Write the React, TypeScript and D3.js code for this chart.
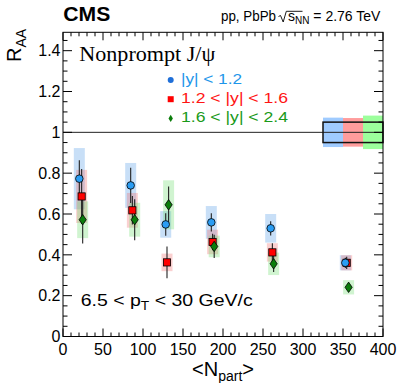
import React from 'react';
import * as d3 from 'd3';

// ---------- data ----------
const X_TICKS = [0, 50, 100, 150, 200, 250, 300, 350, 400];
const X_TICK_LABELS = ['0', '50', '100', '150', '200', '250', '300', '350', '400'];
const Y_TICKS = [0, 0.2, 0.4, 0.6, 0.8, 1, 1.2, 1.4];
const Y_TICK_LABELS = ['0', '0.2', '0.4', '0.6', '0.8', '1', '1.2', '1.4'];

const SERIES_NAMES = ['|y| < 1.2', '1.2 < |y| < 1.6', '1.6 < |y| < 2.4'];

// |y| < 1.2
const NPART_Y1 = [20.4, 84.6, 128.4, 185.4, 259.6, 352.9];
const RAA_Y1 = [0.773, 0.740, 0.549, 0.559, 0.530, 0.361];
const STAT_Y1 = [0.09, 0.086, 0.055, 0.045, 0.035, 0.025];
const SYST_Y1 = [0.15, 0.11, 0.065, 0.08, 0.07, 0.037];

// 1.2 < |y| < 1.6
const NPART_Y2 = [23.3, 86.7, 130.0, 187.0, 261.7, 354.6];
const RAA_Y2 = [0.686, 0.618, 0.363, 0.463, 0.412, 0.361];
const STAT_Y2 = [0.135, 0.07, 0.078, 0.04, 0.045, 0.03];
const SYST_Y2 = [0.13, 0.085, 0.043, 0.06, 0.045, 0.037];

// 1.6 < |y| < 2.4
const NPART_Y3 = [24.6, 89.6, 132.0, 189.0, 263.3, 357.0];
const RAA_Y3 = [0.572, 0.572, 0.645, 0.441, 0.356, 0.241];
const STAT_Y3 = [0.116, 0.1, 0.09, 0.057, 0.04, 0.015];
const SYST_Y3 = [0.09, 0.083, 0.12, 0.053, 0.055, 0.035];

// global uncertainties (boxes at RAA = 1)
const GLOBAL_LO = [325, 350, 375];
const GLOBAL_HI = [350, 375, 400];
const GLOBAL_UNC = [0.072, 0.07, 0.082];
const PP_UNC = 0.05;

// ---------- styles ----------
const SANS = '"Liberation Sans", Arial, Helvetica, sans-serif';
const SERIF = '"Liberation Serif", "Times New Roman", serif';
const MARKER_FILL = ['#2a9df4', '#ff0000', '#0b7d0b'];
const TEXT_COL = ['#1e96ea', '#ff1414', '#1a9a1a'];
const LEGEND_COL = ['#1f6fd8', '#ff1414', '#0b7d0b'];
const BOX_COL = ['rgba(110,170,235,0.38)', 'rgba(240,110,110,0.32)', 'rgba(110,220,110,0.32)'];
const GLOBAL_COL = ['#9fcbff', '#ff9c9c', '#9cff9c'];
const BOX_W = 11;
const MARKER_ORDER = [1, 0, 2];

const W = 399;
const H = 383;

export default function App() {
  const x = d3.scaleLinear().domain([0, 400]).range([63, 383]);
  const y = d3.scaleLinear().domain([0, 1.49]).range([336.5, 32.3]);
  const x0 = x(0), x1 = x(400), yb = y(0), yt = y(1.49);

  const series = [
    { n: NPART_Y1, r: RAA_Y1, s: STAT_Y1, sy: SYST_Y1 },
    { n: NPART_Y2, r: RAA_Y2, s: STAT_Y2, sy: SYST_Y2 },
    { n: NPART_Y3, r: RAA_Y3, s: STAT_Y3, sy: SYST_Y3 },
  ];

  const xMinor = d3.range(0, 401, 10).filter((v) => v % 50 !== 0);
  const yMinor = d3.range(0, 1.4901, 0.05).filter((v) => Math.abs(v / 0.2 - Math.round(v / 0.2)) > 1e-6);

  const marker = (k: number, cx: number, cy: number, key: string, legend = false) => {
    if (k === 0) {
      return <circle key={key} cx={cx} cy={cy} r={legend ? 3 : 3.8} fill={legend ? LEGEND_COL[0] : MARKER_FILL[0]} stroke={legend ? 'none' : '#000'} strokeWidth={0.8} />;
    }
    if (k === 1) {
      const h = legend ? 3 : 3.6;
      return <rect key={key} x={cx - h} y={cy - h} width={2 * h} height={2 * h} fill={MARKER_FILL[1]} stroke={legend ? 'none' : '#000'} strokeWidth={0.8} />;
    }
    const hw = legend ? 2.2 : 3.6, hh = legend ? 3.6 : 5.2;
    return <path key={key} d={`M${cx},${cy - hh}L${cx + hw},${cy}L${cx},${cy + hh}L${cx - hw},${cy}Z`} fill={MARKER_FILL[2]} stroke={legend ? 'none' : '#000'} strokeWidth={0.8} />;
  };

  return (
    <svg width={W} height={H} style={{ position: 'absolute', left: 0, top: 0, background: '#fff' }}>
      <rect x={0} y={0} width={W} height={H} fill="#fff" />

      {/* global uncertainty boxes */}
      {GLOBAL_UNC.map((u, k) => (
        <rect key={'g' + k} x={x(GLOBAL_LO[k])} y={y(1 + u)} width={x(GLOBAL_HI[k]) - x(GLOBAL_LO[k])} height={y(1 - u) - y(1 + u)} fill={GLOBAL_COL[k]} />
      ))}

      {/* systematic boxes */}
      {series.map((S, k) =>
        S.n.map((n, i) => (
          <rect key={`b${k}-${i}`} x={x(n) - BOX_W / 2} y={y(S.r[i] + S.sy[i])} width={BOX_W} height={y(S.r[i] - S.sy[i]) - y(S.r[i] + S.sy[i])} fill={BOX_COL[k]} />
        ))
      )}

      {/* unity line */}
      <line x1={x0} x2={x1} y1={y(1)} y2={y(1)} stroke="#222" strokeWidth={1} />
      <rect x={x(GLOBAL_LO[0])} y={y(1 + PP_UNC)} width={x(400) - x(GLOBAL_LO[0])} height={y(1 - PP_UNC) - y(1 + PP_UNC)} fill="none" stroke="#111" strokeWidth={1.5} />

      {/* stat error bars */}
      {series.map((S, k) =>
        S.n.map((n, i) => (
          <line key={`e${k}-${i}`} x1={x(n)} x2={x(n)} y1={y(S.r[i] + S.s[i])} y2={y(S.r[i] - S.s[i])} stroke="#222" strokeWidth={1.1} />
        ))
      )}

      {/* markers */}
      {MARKER_ORDER.map((k) => series[k].n.map((n, i) => marker(k, x(n), y(series[k].r[i]), `m${k}-${i}`)))}

      {/* frame */}
      <rect x={x0} y={yt} width={x1 - x0} height={yb - yt} fill="none" stroke="#000" strokeWidth={1} />

      {/* x ticks */}
      {X_TICKS.map((v) => (
        <g key={'xt' + v}>
          <line x1={x(v)} x2={x(v)} y1={yb} y2={yb - 8} stroke="#000" />
          <line x1={x(v)} x2={x(v)} y1={yt} y2={yt + 8} stroke="#000" />
        </g>
      ))}
      {xMinor.map((v) => (
        <g key={'xm' + v}>
          <line x1={x(v)} x2={x(v)} y1={yb} y2={yb - 4} stroke="#000" />
          <line x1={x(v)} x2={x(v)} y1={yt} y2={yt + 4} stroke="#000" />
        </g>
      ))}
      {/* y ticks */}
      {Y_TICKS.map((v) => (
        <g key={'yt' + v}>
          <line x1={x0} x2={x0 + 9} y1={y(v)} y2={y(v)} stroke="#000" />
          <line x1={x1} x2={x1 - 9} y1={y(v)} y2={y(v)} stroke="#000" />
        </g>
      ))}
      {yMinor.map((v) => (
        <g key={'ym' + v}>
          <line x1={x0} x2={x0 + 4.5} y1={y(v)} y2={y(v)} stroke="#000" />
          <line x1={x1} x2={x1 - 4.5} y1={y(v)} y2={y(v)} stroke="#000" />
        </g>
      ))}

      {/* tick labels */}
      {X_TICKS.map((v, i) => (
        <text key={'xl' + v} x={x(v)} y={355} textAnchor="middle" fontFamily={SANS} fontSize={16} fill="#000">
          {X_TICK_LABELS[i]}
        </text>
      ))}
      {Y_TICKS.map((v, i) => (
        <text key={'yl' + v} x={60.5} y={y(v) + 5.7} textAnchor="end" fontFamily={SANS} fontSize={16} fill="#000">
          {Y_TICK_LABELS[i]}
        </text>
      ))}

      {/* axis titles */}
      <text x={223} y={375.5} textAnchor="middle" fontFamily={SANS} fontSize={20} fill="#000">
        {'<N'}
        <tspan fontSize={14} dy={5}>part</tspan>
        <tspan dy={-5}>{'>'}</tspan>
      </text>
      <text transform="translate(21,62) rotate(-90)" fontFamily={SANS} fontSize={20} fill="#000">
        R<tspan fontSize={14} dy={5}>AA</tspan>
      </text>

      {/* header */}
      <text x={63.3} y={20.7} fontFamily={SANS} fontWeight="bold" fontSize={20} textLength={47} lengthAdjust="spacingAndGlyphs" fill="#000">CMS</text>
      <text x={221} y={21} fontFamily={SANS} fontSize={14} textLength={55} lengthAdjust="spacingAndGlyphs" fill="#000">pp, PbPb</text>
      <path d="M278.5,16.5L280.5,15.5L283.2,22L286.3,11.3L302.5,11.3" fill="none" stroke="#000" strokeWidth={0.9} />
      <text x={288} y={21} fontFamily={SANS} fontSize={14} fill="#000">
        s<tspan fontSize={10} dy={3}>NN</tspan>
        <tspan dy={-3}>{' = 2.76 TeV'}</tspan>
      </text>

      {/* legend */}
      <text x={79.3} y={61} fontFamily={SERIF} fontSize={20} textLength={136} lengthAdjust="spacingAndGlyphs" fill="#000">Nonprompt J/ψ</text>
      {SERIES_NAMES.map((name, k) => (
        <g key={'lg' + k}>
          {marker(k, 170.7, 80 + k * 19.2, 'lm' + k, true)}
          <text x={181} y={83.5 + k * 19} fontFamily={SANS} fontSize={15} textLength={k === 0 ? 61 : 107} lengthAdjust="spacingAndGlyphs" fill={TEXT_COL[k]}>
            {name}
          </text>
        </g>
      ))}

      {/* kinematic label */}
      <text x={80.7} y={306} fontFamily={SANS} fontSize={17} textLength={172} lengthAdjust="spacingAndGlyphs" fill="#000">
        {'6.5 < p'}
        <tspan fontSize={12} dy={4}>T</tspan>
        <tspan dy={-4}>{' < 30 GeV/c'}</tspan>
      </text>
    </svg>
  );
}
